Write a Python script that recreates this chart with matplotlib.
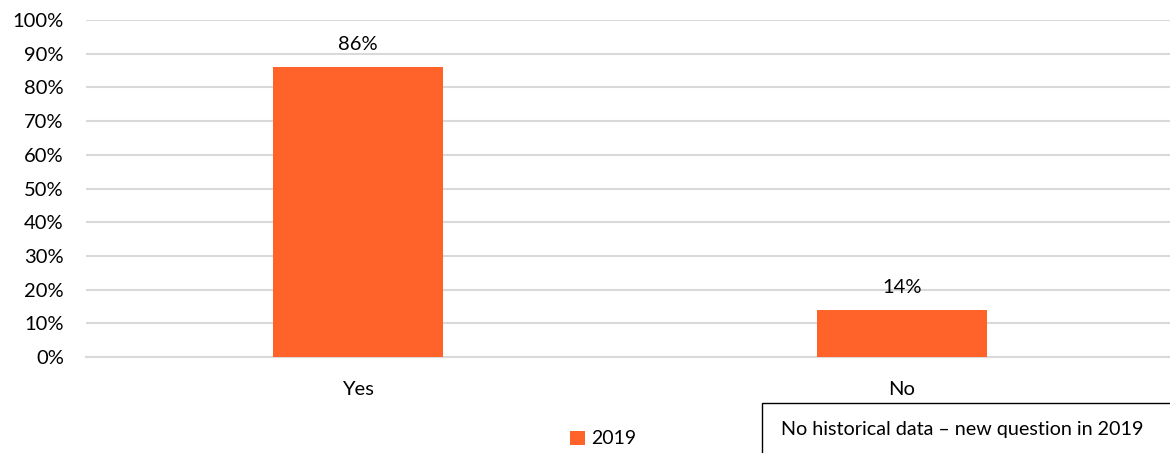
import matplotlib.pyplot as plt
from matplotlib.patches import Rectangle
from matplotlib.ticker import PercentFormatter

categories = ['Yes', 'No']
values_2019 = [86, 14]
series_name = '2019'
note = 'No historical data \u2013 new question in 2019'

plt.rcParams['font.family'] = ['Lato', 'DejaVu Sans']
bar_color = '#FF6329'
grid_color = '#D9D9D9'

fig = plt.figure(figsize=(11.70, 4.53), dpi=100)
ax = fig.add_axes([86 / 1170, 96 / 453, 1088 / 1170, 337 / 453])

x = range(len(categories))
bars = ax.bar(x, values_2019, width=0.3125, color=bar_color, label=series_name, zorder=3)

for b, v in zip(bars, values_2019):
    ax.annotate(f'{v}%', (b.get_x() + b.get_width() / 2, v), xytext=(0, 10),
                textcoords='offset points', ha='center', va='bottom', fontsize=14.5)

ax.set_xlim(-0.5, 1.5)
ax.set_ylim(0, 100)
ax.set_yticks(range(0, 101, 10))
ax.yaxis.set_major_formatter(PercentFormatter(decimals=0))
ax.set_xticks(list(x))
ax.set_xticklabels(categories)
ax.tick_params(axis='both', length=0, labelsize=14.5)
ax.tick_params(axis='x', pad=17)
ax.tick_params(axis='y', pad=16)
ax.grid(axis='y', color=grid_color, linewidth=1.5, zorder=0)
for s in ['top', 'right', 'left']:
    ax.spines[s].set_visible(False)
ax.spines['bottom'].set_color(grid_color)
ax.spines['bottom'].set_linewidth(1.5)

fig.legend(loc='center', bbox_to_anchor=(603 / 1170, 1 - 439 / 453), frameon=False,
           fontsize=14, handlelength=0.75, handleheight=0.75, handletextpad=0.3)

# note box in the bottom right corner
fig.patches.append(Rectangle((762 / 1170, -0.01), 420 / 1170, 50 / 453 + 0.01,
                             transform=fig.transFigure, facecolor='white',
                             edgecolor='black', linewidth=1))
fig.text(781 / 1170, 1 - 429 / 453, note, ha='left', va='center', fontsize=14.2)

fig.savefig('out.png', dpi=100)
